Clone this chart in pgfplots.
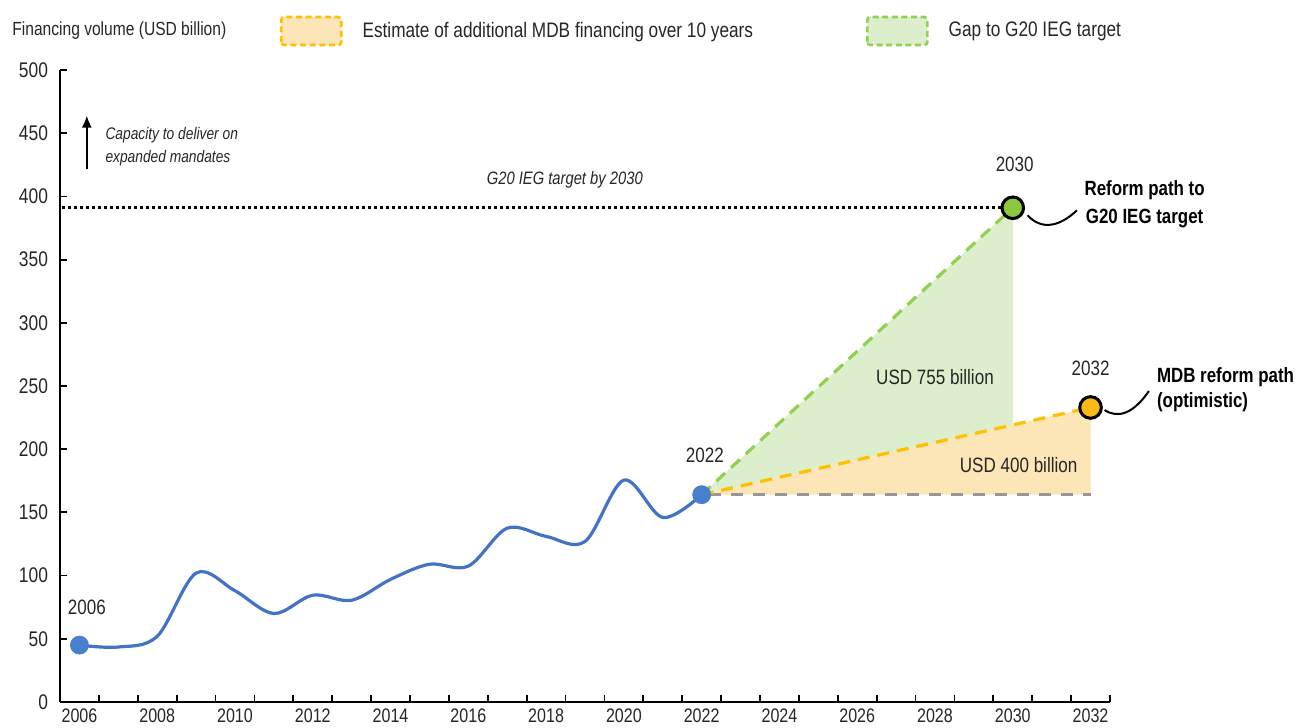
\documentclass[border=0pt]{standalone}
\usepackage{fontspec}
\setmainfont{Liberation Sans}[FakeStretch=0.82]
\usepackage{pgfplots}
\pgfplotsset{compat=1.18}
\usetikzlibrary{arrows.meta}

\definecolor{blueLine}{RGB}{68,114,196}
\definecolor{blueDot}{RGB}{72,128,204}
\definecolor{greenLine}{RGB}{146,208,80}
\definecolor{greenFill}{RGB}{221,238,205}
\definecolor{greenDot}{RGB}{141,198,63}
\definecolor{orangeLine}{RGB}{255,192,0}
\definecolor{orangeFill}{RGB}{252,229,183}
\definecolor{orangeDot}{RGB}{250,185,20}
\definecolor{greyLine}{RGB}{155,150,150}
\definecolor{txt}{RGB}{38,38,38}

\newcommand{\fsz}[2]{\fontsize{#1}{#2}\selectfont}

\begin{document}
\begin{tikzpicture}
\path[use as bounding box] (-30pt,-13pt) rectangle (619pt,351pt);
\begin{axis}[
    at={(0pt,0pt)}, anchor=south west,
    scale only axis, width=525pt, height=316pt,
    xmin=2005.5, xmax=2032.5, ymin=0, ymax=500,
    clip=false,
    axis x line*=bottom, axis y line*=left,
    axis line style={line width=1pt, black},
    xtick={2006,2008,...,2032},
    minor xtick={2006.5,2007.5,...,2032.5},
    ytick={0,50,...,500},
    tick align=inside,
    major x tick style={draw=none},
    tick style={black, line width=0.9pt},
    major tick length=3.5pt, minor tick length=3.5pt,
    tick label style={font=\fsz{9.8}{11}, text=txt, /pgf/number format/assume math mode=true},
    xticklabel style={/pgf/number format/1000 sep={}},
    yticklabel style={font=\fsz{10.6}{12}, xshift=-2.5pt},
    every axis y label/.style={at={(axis description cs:-0.0457,1.0617)}, anchor=west, inner sep=0pt, font=\fsz{9.5}{11}, text=txt},
    ylabel={Financing volume (USD billion)},
    legend columns=2,
    legend cell align=left,
    legend style={at={(axis description cs:0.2095,1.0617)}, anchor=west,
        draw=none, fill=none, inner sep=0pt, outer sep=0pt,
        font=\fsz{10.5}{12}, text=txt,
        /tikz/every odd column/.style={column sep=8pt},
        /tikz/every even column/.style={column sep=54.5pt}},
]
% legend swatches
\addlegendimage{legend image code/.code={\draw[draw=orangeLine, fill=orangeFill, line width=1.3pt, dash pattern=on 3pt off 1.8pt, rounded corners=1.5pt] (0pt,-7pt) rectangle (30pt,7pt);}}
\addlegendentry{Estimate of additional MDB financing over 10 years}
\addlegendimage{legend image code/.code={\draw[draw=greenLine, fill=greenFill, line width=1.3pt, dash pattern=on 3pt off 1.8pt, rounded corners=1.5pt] (0pt,-7pt) rectangle (30pt,7pt);}}
\addlegendentry{Gap to G20 IEG target}

% filled areas
\addplot[draw=none, fill=greenFill, forget plot] coordinates {
    (2022,164) (2030,391) (2030,219) (2022,164)};
\addplot[draw=none, fill=orangeFill, forget plot] coordinates {
    (2022,164) (2032,233) (2032,164) (2022,164)};

% projection lines
\addplot[greyLine, line width=1.6pt, dash pattern=on 6pt off 5pt, forget plot] coordinates {
    (2022.2,164) (2032,164)};
\addplot[orangeLine, line width=1.6pt, dash pattern=on 6pt off 4pt, forget plot] coordinates {
    (2022,164) (2032,233)};
\addplot[greenLine, line width=1.6pt, dash pattern=on 6pt off 4pt, forget plot] coordinates {
    (2022,164) (2030,391)};

% G20 IEG target
\addplot[black, line width=1.4pt, dash pattern=on 1.4pt off 1.6pt, forget plot] coordinates {
    (2005.55,391) (2029.7,391)};

% historical financing
\addplot[blueLine, line width=1.6pt, smooth, tension=0.55, forget plot] coordinates {
    (2006,45) (2007,43.5) (2008,52) (2009,102) (2010,88) (2011,70)
    (2012,84.5) (2013,80.5) (2014,97) (2015,109) (2016,107.5)
    (2017,137.5) (2018,131) (2019,127) (2020,175.5) (2021,146) (2022,164)};

% end points
\addplot[only marks, mark=*, mark size=4.5pt, mark options={fill=blueDot, draw=blueDot}, forget plot]
    coordinates {(2006,45) (2022,164)};
\addplot[only marks, mark=*, mark size=5.4pt, mark options={fill=greenDot, draw=black, line width=1.5pt}, forget plot]
    coordinates {(2030,391)};
\addplot[only marks, mark=*, mark size=5.4pt, mark options={fill=orangeDot, draw=black, line width=1.5pt}, forget plot]
    coordinates {(2032,233)};

% connectors
\draw[black, line width=1pt] (axis cs:2030.38,385) .. controls (axis cs:2030.75,373) and (axis cs:2031.2,376) .. (axis cs:2031.65,389);
\draw[black, line width=1pt] (axis cs:2032.36,231) .. controls (axis cs:2032.7,224) and (axis cs:2033.1,228) .. (axis cs:2033.5,246);

% labels
\node[font=\fsz{10.4}{12}, text=txt] at (axis cs:2006.19,75) {2006};
\node[font=\fsz{10.4}{12}, text=txt] at (axis cs:2022.08,195) {2022};
\node[font=\fsz{10.4}{12}, text=txt] at (axis cs:2030.05,425) {2030};
\node[font=\fsz{10.4}{12}, text=txt] at (axis cs:2032.0,264) {2032};
\node[font=\fsz{10.4}{12}, text=txt] at (axis cs:2028.0,257) {USD 755 billion};
\node[font=\fsz{10.4}{12}, text=txt] at (axis cs:2030.15,187.5) {USD 400 billion};
\node[font=\bfseries\fsz{10.3}{14}, text=black, align=center] at (axis cs:2033.39,394) {Reform path to\\G20 IEG target};
\node[font=\bfseries\fsz{10.3}{12.5}, text=black, align=left, anchor=west, inner sep=0pt] at (axis cs:2033.7,247) {MDB reform path\\(optimistic)};
\node[font=\itshape\fsz{9}{11}, text=txt] at (axis cs:2018.48,413) {G20 IEG target by 2030};
\node[font=\itshape\fsz{8.4}{11.5}, text=txt, align=left, anchor=west, inner sep=0pt] at (axis cs:2006.66,439.5) {Capacity to deliver on\\expanded mandates};
\draw[-{Latex[length=6pt,width=5pt]}, black, line width=1pt] (axis cs:2006.19,422) -- (axis cs:2006.19,464);
\end{axis}
\end{tikzpicture}
\end{document}
